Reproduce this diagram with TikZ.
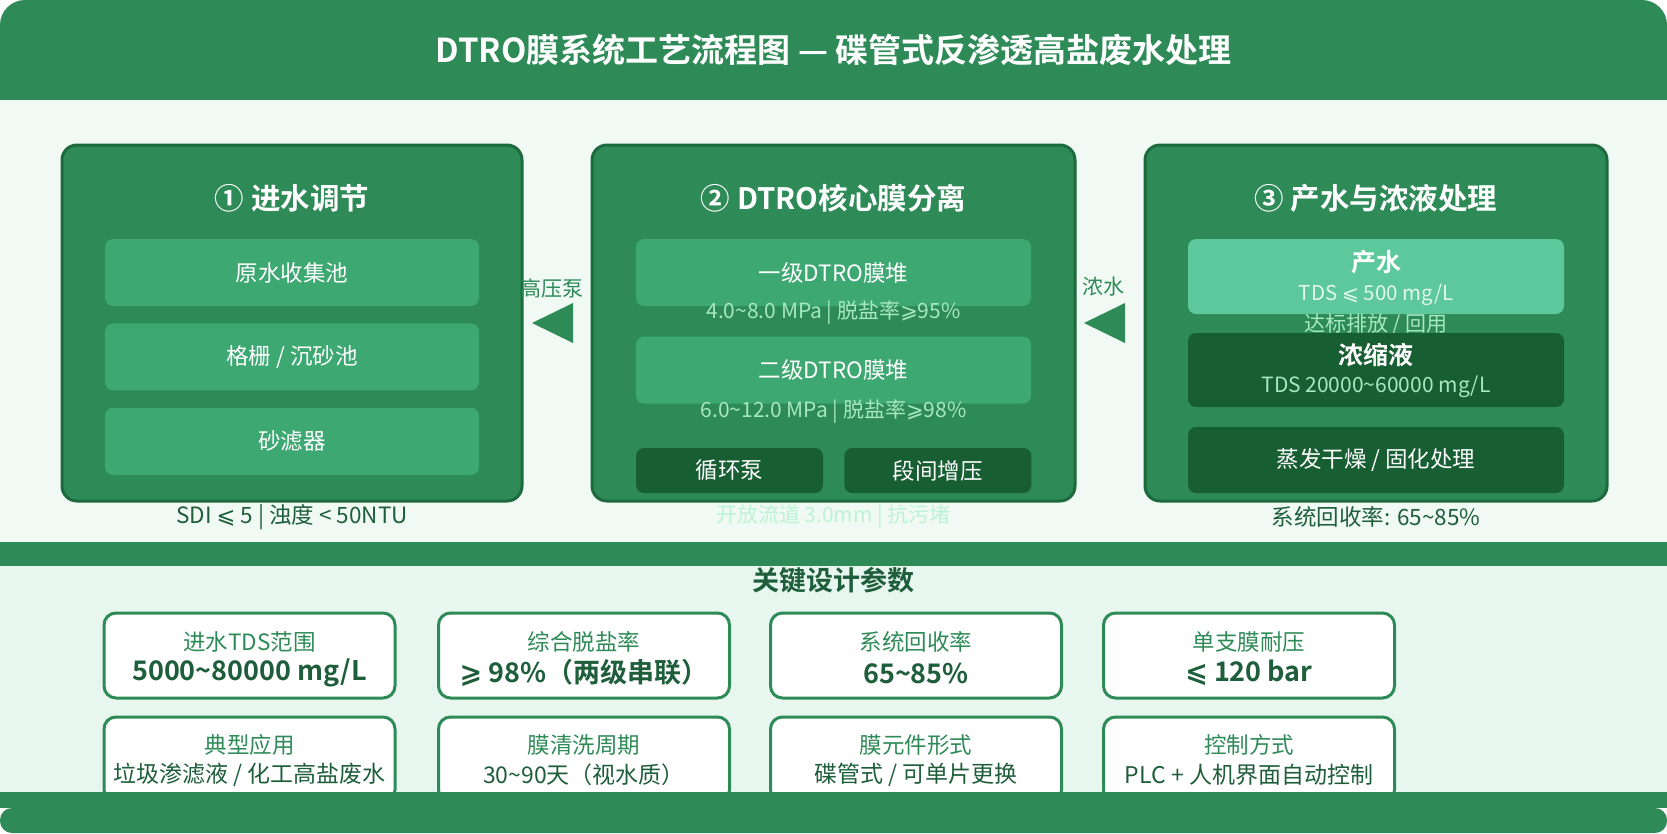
\documentclass[tikz,border=0pt]{standalone}
\usepackage{fontspec}
\setmainfont{Noto Sans CJK SC}[BoldFont={Noto Sans CJK SC Bold}]
\newfontfamily\symfont{DejaVu Sans}
\usepackage{tikz}
\usetikzlibrary{positioning,calc}
\definecolor{bandGreen}{HTML}{2E8B57}
\definecolor{panelEdge}{HTML}{1D6A3F}
\definecolor{boxGreen}{HTML}{3DA872}
\definecolor{boxDark}{HTML}{175E33}
\definecolor{prodGreen}{HTML}{5CC89B}
\definecolor{specGreen}{HTML}{A6E8C2}
\definecolor{prodText}{HTML}{E2F8EC}
\definecolor{noteDark}{HTML}{1E5E3A}
\definecolor{noteLight}{HTML}{BDF3D5}
\definecolor{bgUpper}{HTML}{F0F9F4}
\definecolor{bgLower}{HTML}{E7F6EE}
\newcommand{\fsz}[1]{\fontsize{#1}{#1}\selectfont}
\newcommand{\tl}{\textasciitilde}
\newcommand{\leqs}{{\symfont ⩽}}
\newcommand{\geqs}{{\symfont ⩾}}
\tikzset{
  panel/.style   ={rectangle, rounded corners=15pt, draw=panelEdge, line width=3pt,
                   fill=bandGreen, minimum height=356pt, inner sep=0pt},
  ptitle/.style  ={text=white, font=\fsz{29.5}\bfseries, inner sep=0pt},
  stepbox/.style ={rectangle, rounded corners=8pt, fill=boxGreen, text=white,
                   minimum height=67pt, inner sep=0pt, font=\fsz{22.5}},
  darkbox/.style ={rectangle, rounded corners=8pt, fill=boxDark, text=white,
                   minimum width=376pt, inner sep=0pt, font=\fsz{22.5}},
  prodbox/.style ={rectangle, rounded corners=8pt, fill=prodGreen,
                   minimum width=376pt, minimum height=75pt, inner sep=0pt},
  boxhead/.style ={text=white, font=\fsz{25}\bfseries, inner sep=0pt},
  spec/.style    ={text=specGreen, font=\fsz{21}, inner sep=0pt},
  note/.style    ={text=noteDark, font=\fsz{22.5}, inner sep=0pt},
  flowlbl/.style ={text=bandGreen, font=\fsz{21}, inner sep=0pt},
  card/.style    ={rectangle, rounded corners=12pt, draw=bandGreen, line width=3pt,
                   fill=white, minimum width=291pt, minimum height=85pt, inner sep=0pt},
  cardkey/.style ={text=bandGreen, font=\fsz{22.5}, inner sep=0pt},
  cardval/.style ={text=noteDark, font=\fsz{27}\bfseries, inner sep=0pt},
  cardtxt/.style ={text=noteDark, font=\fsz{23}, inner sep=0pt},
}

\begin{document}
\begin{tikzpicture}[x=1pt,y=-1pt]
\useasboundingbox (0,0) rectangle (1667,833);
\fill[white] (0,0) rectangle (1667,833);
\fill[bgUpper] (0,100) rectangle (1667,542);
\fill[bgLower] (0,566) rectangle (1667,792);

% header
\fill[bandGreen, rounded corners=25pt] (0,0) rectangle (1667,60);
\fill[bandGreen] (0,30) rectangle (1667,100);
\node[text=white, font=\fsz{33}\bfseries] (head) at (833.5,50) {DTRO膜系统工艺流程图 — 碟管式反渗透高盐废水处理};

% stage 1
\node[panel, minimum width=460pt] (p1) at (292,323) {};
\node[ptitle] (t1) at (292,198) {① 进水调节};
\node[stepbox, minimum width=374pt] (a1) at (292,272.5) {原水收集池};
\node[stepbox, minimum width=374pt, below=17pt of a1] (a2) {格栅 / 沉砂池};
\node[stepbox, minimum width=374pt, below=17pt of a2] (a3) {砂滤器};
\node[note] (n1) at (292,517) {SDI \leqs\ 5 | 浊度 < 50NTU};

% stage 2
\node[panel, minimum width=483pt] (p2) at (833.5,323) {};
\node[ptitle] (t2) at (833.5,198) {② DTRO核心膜分离};
\node[stepbox, minimum width=395pt] (b1) at (833.5,272.5) {一级DTRO膜堆};
\node[spec] (s1) at (833.5,313) {4.0\tl8.0 MPa | 脱盐率\geqs95\%};
\node[stepbox, minimum width=395pt] (b2) at (833.5,370) {二级DTRO膜堆};
\node[spec] (s2) at (833.5,412) {6.0\tl12.0 MPa | 脱盐率\geqs98\%};
\node[darkbox, minimum width=187pt, minimum height=45pt] (b3) at (729.5,470.5) {循环泵};
\node[darkbox, minimum width=187pt, minimum height=45pt, right=21pt of b3] (b4) {段间增压};
\node[note, text=noteLight, font=\fsz{21}] (n2) at (833.5,517) {开放流道 3.0mm | 抗污堵};

% stage 3
\node[panel, minimum width=462pt] (p3) at (1376,323) {};
\node[ptitle] (t3) at (1376,198) {③ 产水与浓液处理};
\node[prodbox] (c1) at (1376,276.5) {};
\node[boxhead] (c1h) at (1376,262) {产水};
\node[text=prodText, font=\fsz{20.5}, inner sep=0pt] (c1t) at (1376,295) {TDS \leqs\ 500 mg/L};
\node[spec] (c1s) at (1376,325) {达标排放 / 回用};
\node[darkbox, minimum height=74pt] (c2) at (1376,370) {};
\node[boxhead] (c2h) at (1376,355) {浓缩液};
\node[spec] (c2t) at (1376,387) {TDS 20000\tl60000 mg/L};
\node[darkbox, minimum height=66pt] (c3) at (1376,460) {蒸发干燥 / 固化处理};
\node[note] (n3) at (1376,517) {系统回收率: 65\tl85\%};

% flow marks between stages
\node[flowlbl] (pumpLbl) at (552,288) {高压泵};
\coordinate (pumpTip) at (532,323);
\fill[bandGreen] (pumpTip) -- ++(41,-20) -- ++(0,40) -- cycle;
\node[flowlbl] (concLbl) at (1103,287) {浓水};
\coordinate (concTip) at (1084,323);
\fill[bandGreen] (concTip) -- ++(41,-20) -- ++(0,40) -- cycle;

% key parameters
\fill[bandGreen] (0,542) rectangle (1667,566);
\node[text=noteDark, font=\fsz{27}\bfseries] (keyHead) at (833.5,580) {关键设计参数};

\node[card] (k1) at (249.5,655.5) {};
\node[cardkey] at ($(k1.center)+(0,-13.5)$) (k1a) {进水TDS范围};
\node[cardval] at ($(k1.center)+(0,17.5)$) (k1b) {5000\tl80000 mg/L};
\node[card] (k2) at (584,655.5) {};
\node[cardkey] at ($(k2.center)+(0,-13.5)$) (k2a) {综合脱盐率};
\node[cardval] at ($(k2.center)+(0,17.5)$) (k2b) {\geqs\ 98\%（两级串联）};
\node[card] (k3) at (916,655.5) {};
\node[cardkey] at ($(k3.center)+(0,-13.5)$) (k3a) {系统回收率};
\node[cardval] at ($(k3.center)+(0,17.5)$) (k3b) {65\tl85\%};
\node[card] (k4) at (1249,655.5) {};
\node[cardkey] at ($(k4.center)+(0,-13.5)$) (k4a) {单支膜耐压};
\node[cardval] at ($(k4.center)+(0,17.5)$) (k4b) {\leqs\ 120 bar};

\node[card] (m1) at (249.5,759.5) {};
\node[cardkey] at ($(m1.center)+(0,-14.5)$) (m1a) {典型应用};
\node[cardtxt] at ($(m1.center)+(0,15.5)$) (m1b) {垃圾渗滤液 / 化工高盐废水};
\node[card] (m2) at (584,759.5) {};
\node[cardkey] at ($(m2.center)+(0,-14.5)$) (m2a) {膜清洗周期};
\node[cardtxt] at ($(m2.center)+(0,15.5)$) (m2b) {30\tl90天（视水质）};
\node[card] (m3) at (916,759.5) {};
\node[cardkey] at ($(m3.center)+(0,-14.5)$) (m3a) {膜元件形式};
\node[cardtxt] at ($(m3.center)+(0,15.5)$) (m3b) {碟管式 / 可单片更换};
\node[card] (m4) at (1249,759.5) {};
\node[cardkey] at ($(m4.center)+(0,-14.5)$) (m4a) {控制方式};
\node[cardtxt] at ($(m4.center)+(0,15.5)$) (m4b) {PLC + 人机界面自动控制};

% footer
\fill[bandGreen] (0,792) rectangle (1667,808);
\fill[bandGreen, rounded corners=12pt] (0,808) rectangle (1667,833);
\end{tikzpicture}
\end{document}
